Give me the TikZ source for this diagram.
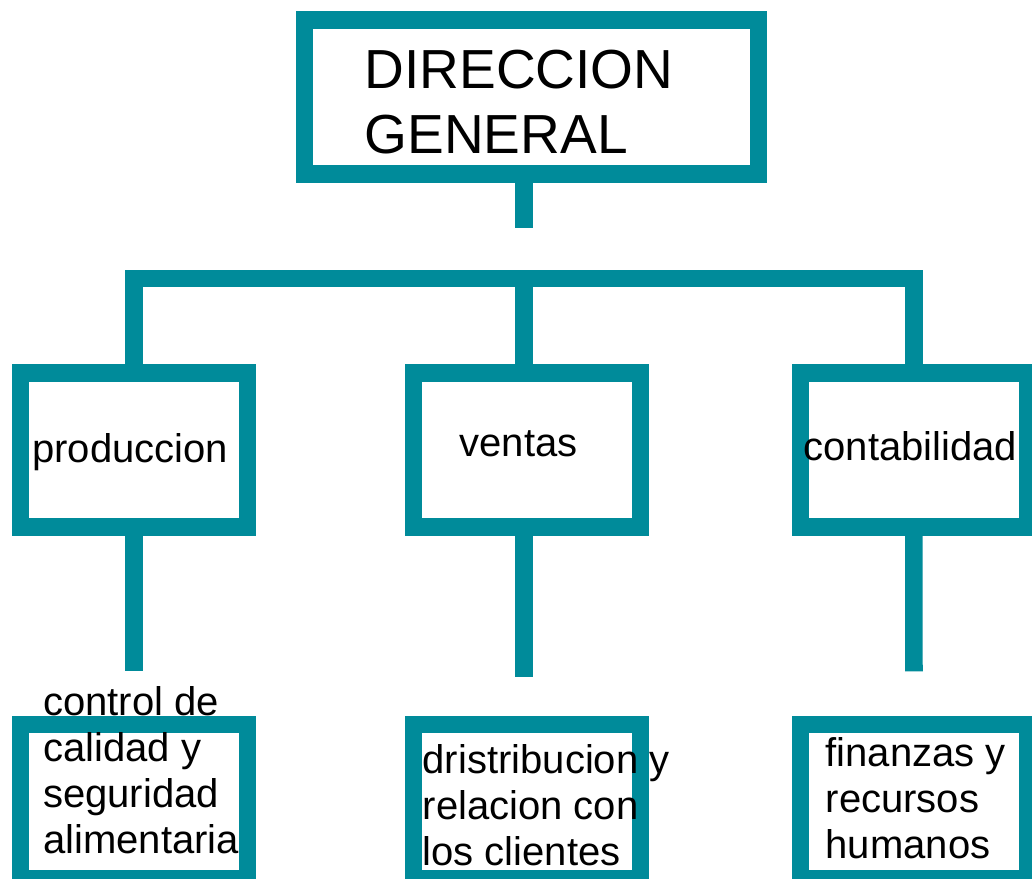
\documentclass[tikz,border=0pt]{standalone}
\usepackage{fontspec}
\setmainfont{Liberation Sans}
\definecolor{orgteal}{RGB}{0,139,154}
\begin{document}
\begin{tikzpicture}[x=0.01cm,y=-0.01cm,
    orgbox/.style={draw=\BOXCOLOR,line width=0.175cm,minimum height=1.54cm,inner sep=0pt,outer sep=0pt},
    orgline/.style={draw=\BOXCOLOR,line width=0.175cm},
    orgtext/.style={anchor=base west,inner sep=0pt,align=left,font=\fontsize{11.38pt}{13.09pt}\selectfont}]

\def\BOXCOLOR{orgteal}
	\useasboundingbox (0,0) rectangle (1032,879);
	\clip (0,0) rectangle (1032,879);

	\node[orgbox,minimum width=4.535cm] (direccion) at (531.5,97.2) {};
	\node[orgbox,minimum width=2.265cm] (produccion) at (134,450.2) {};
	\node[orgbox,minimum width=2.27cm] (ventas) at (527,450.2) {};
	\node[orgbox,minimum width=2.27cm] (contabilidad) at (913.9,450.2) {};
	\node[orgbox,minimum width=2.265cm] (calidad) at (134,801.6) {};
	\node[orgbox,minimum width=2.27cm] (distribucion) at (527,801.6) {};
	\node[orgbox,minimum width=2.27cm] (finanzas) at (913.9,801.6) {};

	\coordinate (direccion end) at (524,227.7);
	\coordinate (bar) at (524,278.7);
	\coordinate (produccion end) at (134,671.3);
	\coordinate (ventas end) at (524,676.7);
	\coordinate (contabilidad end) at (914,671.3);

	\draw[orgline] (direccion end |- direccion.south) -- (direccion end);
	\draw[orgline] (produccion.north) |- (bar) -| (contabilidad.north);
	\draw[orgline] (bar) -- (bar |- ventas.north);
	\draw[orgline] (produccion.south) -- (produccion end);
	\draw[orgline] (ventas end |- ventas.south) -- (ventas end);
	\draw[orgline] (contabilidad.south) -- (contabilidad end);

	\node[orgtext,font=\fontsize{15.65pt}{18.5pt}\selectfont] (direccion text) at (364,153.3) {DIRECCION\\GENERAL};
	\node[orgtext] (produccion text) at (31.5,462.7) {produccion};
	\node[orgtext] (ventas text) at (459,456.7) {ventas};
	\node[orgtext] (contabilidad text) at (803,460.7) {contabilidad};
	\node[orgtext] (calidad text) at (42.5,854) {control de\\calidad y\\seguridad\\alimentaria};
	\node[orgtext] (distribucion text) at (422,865.3) {dristribucion y\\relacion con\\los clientes};
	\node[orgtext] (finanzas text) at (825,858.3) {finanzas y\\recursos\\humanos};

          \end{tikzpicture}
\end{document}
